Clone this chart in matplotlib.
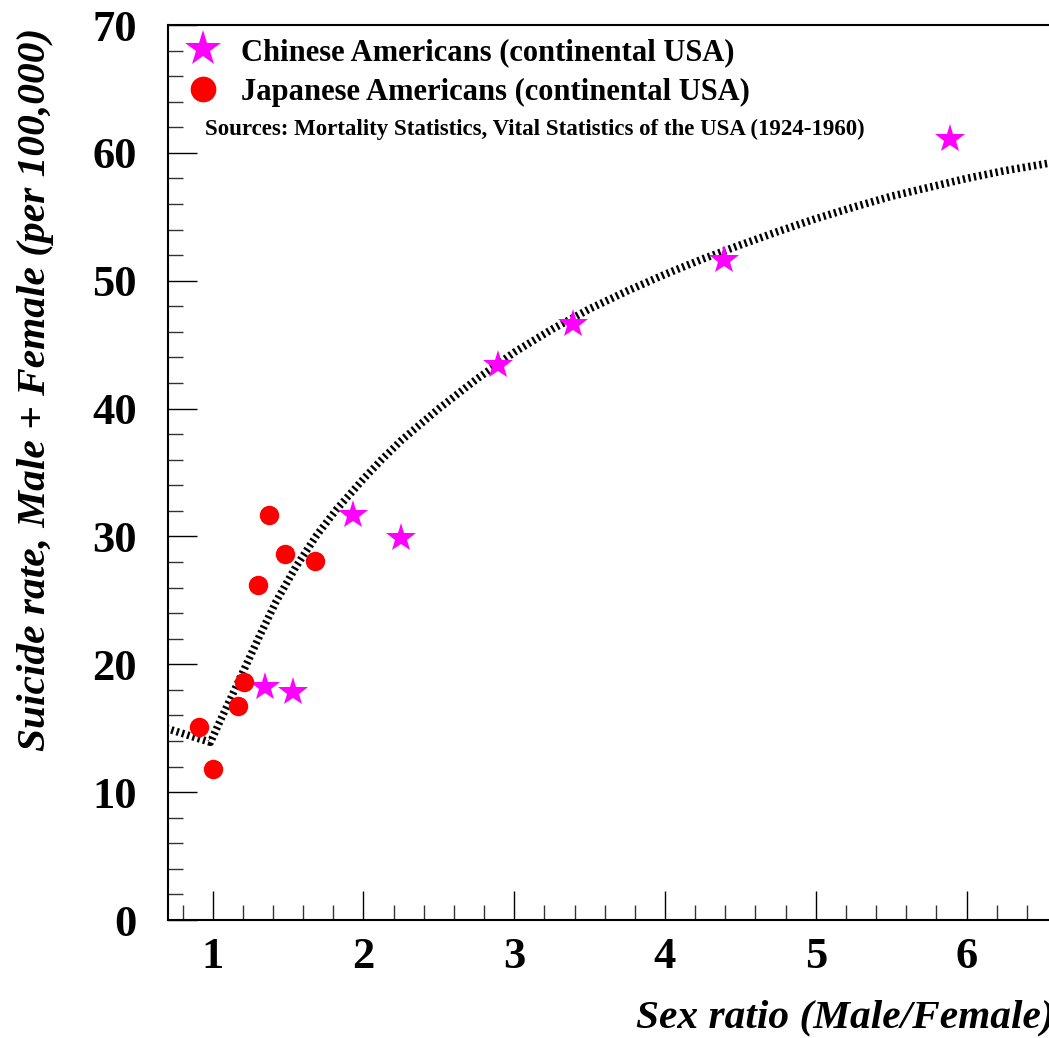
import matplotlib
matplotlib.use("Agg")
import matplotlib.pyplot as plt
from matplotlib.ticker import MultipleLocator
from matplotlib.lines import Line2D

plt.rcParams['font.family'] = ['Liberation Serif', 'DejaVu Serif']
plt.rcParams['lines.scale_dashes'] = False

# Data
chinese_ratio = [1.35, 1.53, 1.93, 2.25, 2.89, 3.39, 4.39, 5.89]
chinese_rate = [18.2, 17.8, 31.7, 29.9, 43.4, 46.6, 51.6, 61.1]

japanese_ratio = [0.91, 1.00, 1.17, 1.21, 1.30, 1.37, 1.48, 1.68]
japanese_rate = [15.1, 11.8, 16.7, 18.6, 26.2, 31.7, 28.6, 28.1]

# Fit curve, points
fit_ratio = [0.69, 0.985, 1.05, 1.11, 1.22, 1.31, 1.42, 1.55, 1.69, 1.82,
             2.00, 2.12, 2.25, 2.50, 2.75, 3.00, 3.25, 3.50, 3.75, 4.00,
             4.25, 4.50, 4.75, 5.00, 5.25, 5.50, 5.75, 6.00, 6.25, 6.60]
fit_rate = [15.0, 13.9, 15.6, 17.1, 19.9, 22.2, 24.9, 27.6, 30.1, 32.1,
            34.5, 36.0, 37.5, 40.0, 42.3, 44.4, 46.2, 47.8, 49.2, 50.5,
            51.7, 52.8, 53.85, 54.85, 55.75, 56.6, 57.3, 58.0, 58.6, 59.3]

labels = ["Chinese Americans (continental USA)",
          "Japanese Americans (continental USA)"]
source_text = "Sources: Mortality Statistics, Vital Statistics of the USA (1924-1960)"
xlabel = "Sex ratio (Male/Female)"
ylabel = "Suicide rate, Male + Female (per 100,000)"

W, H = 1049, 1038
fig = plt.figure(figsize=(W / 100, H / 100), dpi=100)
ax_left, ax_right, ax_top, ax_bottom = 167.5, 1057, 25, 920
ax = fig.add_axes([ax_left / W, (H - ax_bottom) / H,
                   (ax_right - ax_left) / W, (ax_bottom - ax_top) / H])

ax.plot(fit_ratio, fit_rate, color='black', lw=5.5,
        linestyle=(0, (1.7, 2.3)), dash_capstyle='butt',
        solid_joinstyle='round', zorder=2)
ax.plot(chinese_ratio, chinese_rate, linestyle='none', marker='*',
        color='#ff00ff', markersize=22, markeredgewidth=0, zorder=3)
ax.plot(japanese_ratio, japanese_rate, linestyle='none', marker='o',
        color='#ff0000', markersize=14, markeredgewidth=0, zorder=3)

ax.set_xlim(0.7, 6.6)
ax.set_ylim(0, 70)
ax.xaxis.set_major_locator(MultipleLocator(1))
ax.xaxis.set_minor_locator(MultipleLocator(0.2))
ax.yaxis.set_major_locator(MultipleLocator(10))
ax.yaxis.set_minor_locator(MultipleLocator(2))
ax.tick_params(axis='both', which='major', direction='in', length=21,
               width=1.0, color='black')
ax.tick_params(axis='both', which='minor', direction='in', length=11,
               width=1.0, color='#333333')
ax.tick_params(axis='y', which='major', pad=22)
ax.tick_params(axis='x', which='major', pad=12)
for lab in ax.get_xticklabels() + ax.get_yticklabels():
    lab.set_fontsize(32)
    lab.set_fontweight('bold')
ax.spines['right'].set_visible(False)
for s in ['left', 'bottom', 'top']:
    ax.spines[s].set_linewidth(1.5)

fig.text(1055 / W, (H - 1027) / H, xlabel, ha='right', va='baseline',
         fontsize=29.8, fontweight='bold', fontstyle='italic')
fig.text(36 / W, (H - 28) / H, ylabel, ha='center', va='top', rotation=90,
         fontsize=29.8, fontweight='bold', fontstyle='italic')

handles = [Line2D([], [], linestyle='none', marker='*', color='#ff00ff',
                  markersize=20, markeredgewidth=0),
           Line2D([], [], linestyle='none', marker='o', color='#ff0000',
                  markersize=13.5, markeredgewidth=0)]
leg = fig.legend(handles, labels, loc='upper left',
                 bbox_to_anchor=(188 / W, (H - 38) / H),
                 bbox_transform=fig.transFigure, frameon=False,
                 borderpad=0, borderaxespad=0, handlelength=1.0,
                 handletextpad=0.72, labelspacing=0.36, markerscale=1.37,
                 prop={'size': 22, 'weight': 'bold'})

fig.text(205 / W, (H - 129) / H, source_text, ha='left', va='center',
         fontsize=16.5, fontweight='bold')

fig.savefig("out.png", dpi=100)
